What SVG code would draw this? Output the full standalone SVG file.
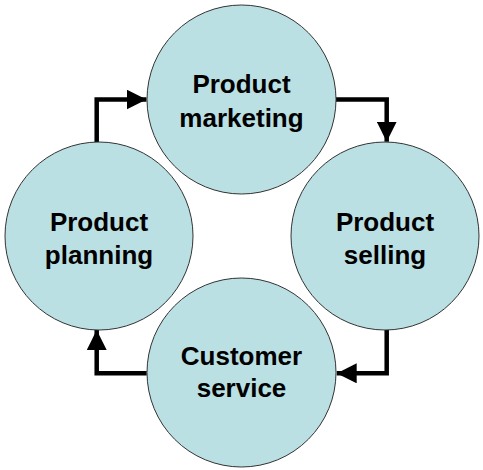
<svg xmlns="http://www.w3.org/2000/svg" width="483" height="470" viewBox="0 0 483 470">
<style>
.node circle{fill:#BBE0E3;stroke:#333;stroke-width:1}
.node text{font-family:"Liberation Sans",Arial,sans-serif;font-weight:bold;font-size:26px;fill:#000;text-anchor:middle}
.conn path{fill:none;stroke:#000;stroke-width:4.5}
</style>
<defs>
<marker id="ah" viewBox="0 0 20 20" refX="20" refY="10" markerWidth="20" markerHeight="20" markerUnits="userSpaceOnUse" orient="auto">
<path d="M0,0 L20,10 L0,20 Z" fill="#000"/>
</marker>
</defs>
<rect width="483" height="470" fill="#fff"/>
<g class="conn">
<path d="M96.7,142 V99.5 H146.5" marker-end="url(#ah)"/>
<path d="M336,99.5 H386.7 V141.7" marker-end="url(#ah)"/>
<path d="M386.7,330 V373.3 H336.7" marker-end="url(#ah)"/>
<path d="M146.7,373.3 H96.7 V330" marker-end="url(#ah)"/>
</g>
<g id="marketing" class="node">
<circle cx="241.5" cy="99.5" r="94.5"/>
<text x="241.5" y="93.3">Product</text>
<text x="241.5" y="126.5">marketing</text>
</g>
<g id="planning" class="node">
<circle cx="99" cy="236" r="94"/>
<text x="99" y="230.5">Product</text>
<text x="99" y="263.5">planning</text>
</g>
<g id="selling" class="node">
<circle cx="385" cy="236" r="94"/>
<text x="385" y="230.5">Product</text>
<text x="385" y="263.5">selling</text>
</g>
<g id="service" class="node">
<circle cx="241.5" cy="372.5" r="94.5"/>
<text x="241.5" y="365">Customer</text>
<text x="241.5" y="396.5">service</text>
</g>
</svg>
